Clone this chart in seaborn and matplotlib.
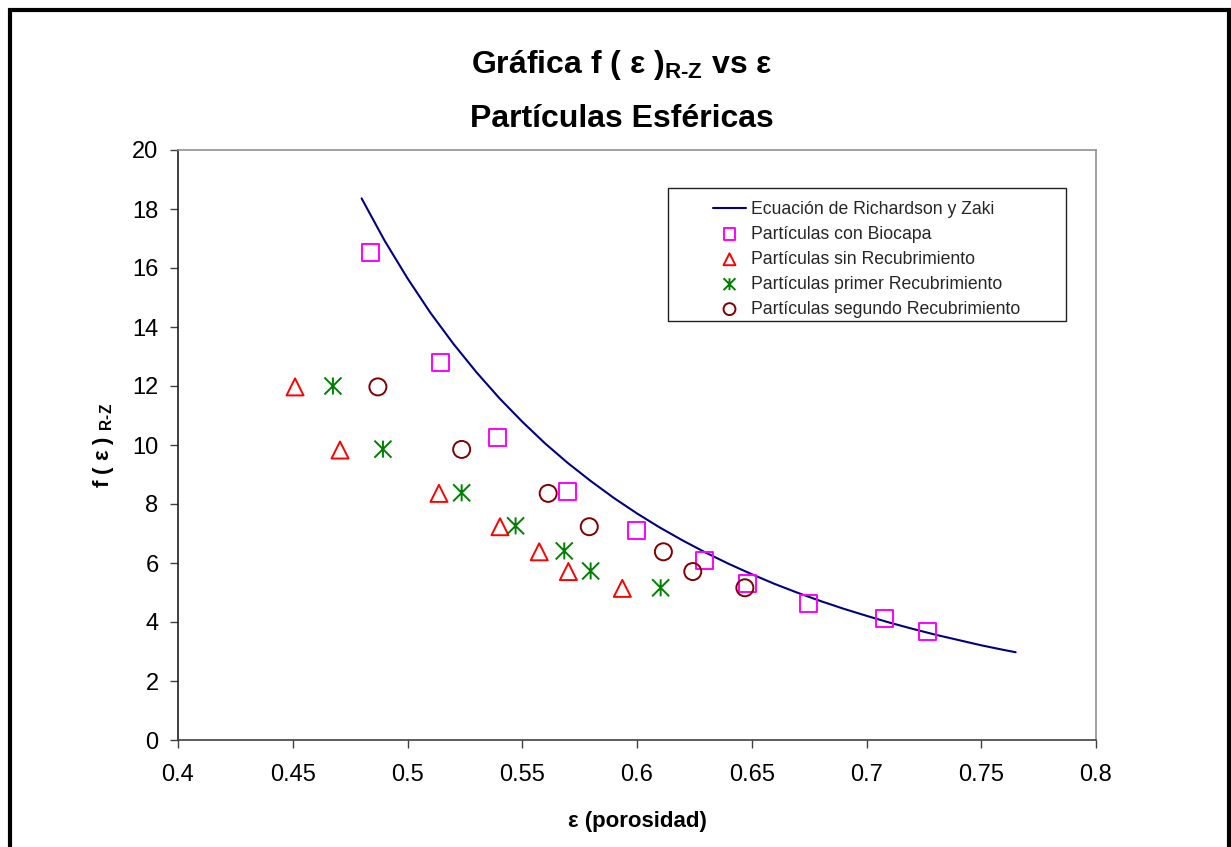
import matplotlib
matplotlib.use("Agg")
import matplotlib.pyplot as plt
from matplotlib.path import Path
from matplotlib.patches import Rectangle
import seaborn as sns

# Richardson-Zaki equation curve, f(eps) along the porosity range
rz_eps = [0.480, 0.490, 0.500, 0.510, 0.520, 0.530, 0.540, 0.550, 0.560, 0.570,
          0.580, 0.590, 0.600, 0.610, 0.620, 0.630, 0.640, 0.650, 0.660, 0.670,
          0.680, 0.690, 0.700, 0.710, 0.720, 0.730, 0.740, 0.750, 0.760, 0.765]
rz_f = [18.36, 16.93, 15.65, 14.48, 13.43, 12.47, 11.59, 10.79, 10.05, 9.38,
        8.77, 8.20, 7.68, 7.20, 6.76, 6.35, 5.97, 5.62, 5.29, 4.99,
        4.71, 4.45, 4.21, 3.98, 3.77, 3.57, 3.39, 3.21, 3.05, 2.975]

# Experimental points
bio_eps = [0.4837, 0.5142, 0.5393, 0.5698, 0.5998, 0.6292, 0.6481, 0.6749, 0.7077, 0.7267]
bio_f = [16.54, 12.78, 10.25, 8.44, 7.10, 6.08, 5.29, 4.63, 4.11, 3.69]

sin_eps = [0.4510, 0.4706, 0.5137, 0.5403, 0.5574, 0.5701, 0.5936]
sin_f = [11.97, 9.83, 8.36, 7.23, 6.38, 5.71, 5.14]

pri_eps = [0.4675, 0.4893, 0.5236, 0.5471, 0.5683, 0.5798, 0.6103]
pri_f = [12.00, 9.86, 8.38, 7.26, 6.41, 5.73, 5.16]

seg_eps = [0.4871, 0.5236, 0.5613, 0.5792, 0.6115, 0.6243, 0.6470]
seg_f = [11.97, 9.85, 8.36, 7.23, 6.38, 5.71, 5.16]

labels = ["Ecuación de Richardson y Zaki",
          "Partículas con Biocapa",
          "Partículas sin Recubrimiento",
          "Partículas primer Recubrimiento",
          "Partículas segundo Recubrimiento"]

x_ticks = [0.4, 0.45, 0.5, 0.55, 0.6, 0.65, 0.7, 0.75, 0.8]
x_ticklabels = ["0.4", "0.45", "0.5", "0.55", "0.6", "0.65", "0.7", "0.75", "0.8"]
y_ticks = list(range(0, 21, 2))

sns.set_theme(style="white")
plt.rcParams["font.family"] = ["Liberation Sans", "DejaVu Sans"]
plt.rcParams["mathtext.fontset"] = "custom"
plt.rcParams["mathtext.rm"] = "Liberation Sans:bold"
plt.rcParams["mathtext.bf"] = "Liberation Sans:bold"

W, H = 1231, 847
fig = plt.figure(figsize=(W / 100, H / 100), dpi=100)
fig.patch.set_facecolor("white")
ax = fig.add_axes([178 / W, 1 - 740 / H, (1096 - 178) / W, (740 - 150) / H])

# Asterisk-style star marker (X with a vertical stroke)
star = Path([(-1, -1), (1, 1), (-1, 1), (1, -1), (0, -1), (0, 1)],
            [Path.MOVETO, Path.LINETO, Path.MOVETO, Path.LINETO, Path.MOVETO, Path.LINETO])

sns.lineplot(x=rz_eps, y=rz_f, ax=ax, color="#000080", linewidth=1.5,
             sort=False, label=labels[0], zorder=2)
sns.scatterplot(x=bio_eps, y=bio_f, ax=ax, marker="s", s=150, color="#FF00FF",
                facecolor="none", edgecolor="#FF00FF", linewidth=1.4,
                label=labels[1], zorder=3)
sns.scatterplot(x=sin_eps, y=sin_f, ax=ax, marker="^", s=150, color="#FF0000",
                facecolor="none", edgecolor="#FF0000", linewidth=1.4,
                label=labels[2], zorder=3)
sns.scatterplot(x=pri_eps, y=pri_f, ax=ax, marker=star, s=150, color="#008000",
                facecolor="none", edgecolor="#008000", linewidth=1.4,
                label=labels[3], zorder=3)
sns.scatterplot(x=seg_eps, y=seg_f, ax=ax, marker="o", s=150, color="#800000",
                facecolor="none", edgecolor="#800000", linewidth=1.4,
                label=labels[4], zorder=4)

ax.set_xlim(0.4, 0.8)
ax.set_ylim(0, 20)
ax.set_xticks(x_ticks)
ax.set_xticklabels(x_ticklabels)
ax.set_yticks(y_ticks)
ax.tick_params(axis="both", direction="out", length=6, width=1, color="#404040",
               labelsize=17, labelcolor="black", bottom=True, left=True)
ax.tick_params(axis="x", pad=11)
ax.tick_params(axis="y", pad=8)
ax.grid(False)

for side in ("top", "right"):
    ax.spines[side].set_color("#909090")
    ax.spines[side].set_linewidth(1.2)
ax.spines["left"].set_color("#202020")
ax.spines["bottom"].set_color("#404040")
ax.spines["left"].set_linewidth(1.2)
ax.spines["bottom"].set_linewidth(1.2)

sub_rz = r"$_{\mathregular{R\text{-}Z}}$"
ax.set_xlabel("ε (porosidad)", fontsize=16, fontweight="bold", color="black")
ax.xaxis.set_label_coords(0.5, (740 - 821) / 590)
ax.xaxis.label.set_va("center")
ax.set_ylabel("f ( ε ) " + sub_rz, fontsize=16, fontweight="bold", color="black")
ax.yaxis.set_label_coords((103 - 178) / 918, 0.5)
ax.yaxis.label.set_va("center")

# Legend: framed box with the entries set in from its left edge
handles, _ = ax.get_legend_handles_labels()
leg = ax.legend(handles, labels, loc="upper left",
                bbox_to_anchor=((713 - 178) / 918, (740 - 201) / 590),
                frameon=False, fontsize=12.7, borderpad=0, borderaxespad=0,
                handlelength=1.87, handletextpad=0.3, labelspacing=0.45,
                markerscale=0.7)
ax.add_patch(Rectangle(((668 - 178) / 918, (740 - 321) / 590),
                       (1066 - 668) / 918, (321 - 188) / 590,
                       transform=ax.transAxes, fill=False, edgecolor="#202020",
                       linewidth=1.0, zorder=5))

# Title lines
fig.text(622 / W, 1 - 73 / H, "Gráfica f ( ε )" + sub_rz + " vs ε",
         ha="center", va="baseline", fontsize=23, fontweight="bold", color="black")
fig.text(622 / W, 1 - 127 / H, "Partículas Esféricas",
         ha="center", va="baseline", fontsize=23, fontweight="bold", color="black")

# Outer chart border
fig.add_artist(Rectangle((10 / W, -0.02), (1229 - 10) / W, 1.02 - 10 / H,
                         transform=fig.transFigure, fill=False,
                         edgecolor="black", linewidth=3.0))

fig.savefig("out.png", dpi=100)
